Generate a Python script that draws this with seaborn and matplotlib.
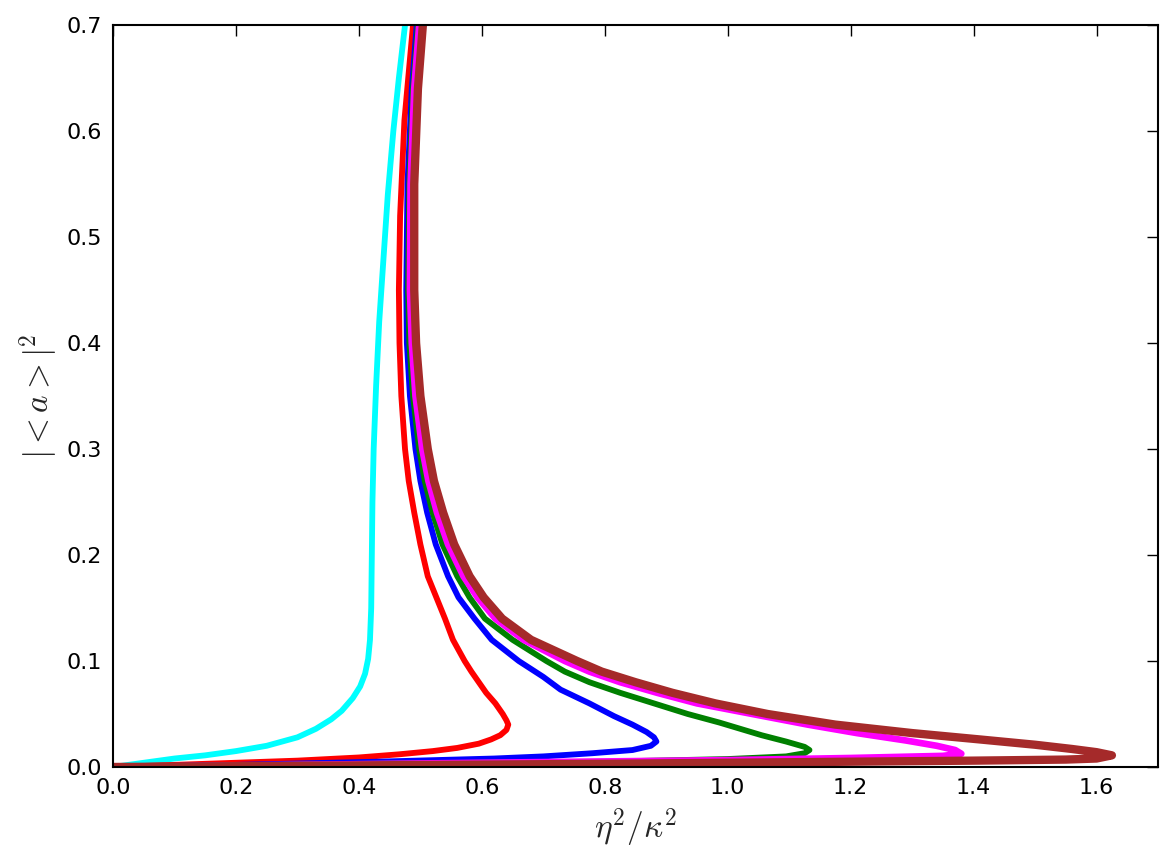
import numpy as np
import pandas as pd
import matplotlib
matplotlib.use("Agg")
import matplotlib.pyplot as plt
import seaborn as sns

# curves, (eta^2/kappa^2, |<a>|^2), in path order
cyan_x = [0.0, 0.05, 0.10, 0.15, 0.20, 0.25, 0.30, 0.33, 0.355, 0.372, 0.39, 0.402, 0.410, 0.415, 0.418, 0.420,
          0.421, 0.422, 0.424, 0.428, 0.433, 0.440, 0.447, 0.456, 0.465, 0.475]
cyan_y = [0.0, 0.004, 0.008, 0.011, 0.015, 0.020, 0.028, 0.036, 0.045, 0.053, 0.065, 0.076, 0.088, 0.102, 0.120, 0.150,
          0.200, 0.250, 0.300, 0.360, 0.420, 0.480, 0.540, 0.600, 0.650, 0.700]

red_x = [0.0, 0.2, 0.3, 0.4, 0.466, 0.52, 0.56, 0.595, 0.615, 0.630, 0.640, 0.643, 0.640, 0.634, 0.622, 0.607,
         0.595, 0.583, 0.572, 0.553, 0.540, 0.526, 0.512, 0.500, 0.490, 0.481, 0.475, 0.469, 0.466, 0.465,
         0.467, 0.474, 0.488]
red_y = [0.0, 0.004, 0.006, 0.009, 0.012, 0.015, 0.018, 0.022, 0.026, 0.030, 0.035, 0.040, 0.044, 0.050, 0.060, 0.070,
         0.080, 0.090, 0.100, 0.120, 0.140, 0.160, 0.180, 0.210, 0.240, 0.270, 0.300, 0.350, 0.400, 0.450,
         0.520, 0.610, 0.700]

blue_x = [0.0, 0.2, 0.43, 0.62, 0.70, 0.78, 0.845, 0.875, 0.884, 0.880, 0.868, 0.845, 0.815, 0.775, 0.728, 0.700,
          0.660, 0.616, 0.588, 0.562, 0.545, 0.525, 0.511, 0.500, 0.492, 0.483, 0.478, 0.477, 0.479, 0.486, 0.494]
blue_y = [0.0, 0.002, 0.005, 0.008, 0.010, 0.013, 0.016, 0.020, 0.024, 0.028, 0.033, 0.040, 0.048, 0.060, 0.073, 0.085,
          0.100, 0.120, 0.140, 0.160, 0.180, 0.210, 0.240, 0.270, 0.300, 0.350, 0.400, 0.450, 0.550, 0.640, 0.700]

green_x = [0.0, 0.4, 0.8, 1.0, 1.095, 1.125, 1.133, 1.125, 1.095, 1.055, 0.986, 0.935, 0.880, 0.825, 0.775, 0.735,
           0.705, 0.650, 0.605, 0.580, 0.560, 0.536, 0.520, 0.507, 0.498, 0.488, 0.482, 0.480, 0.482, 0.488, 0.496]
green_y = [0.0, 0.003, 0.005, 0.0075, 0.010, 0.013, 0.016, 0.019, 0.024, 0.030, 0.042, 0.050, 0.060, 0.070, 0.080, 0.090,
           0.100, 0.120, 0.140, 0.160, 0.180, 0.210, 0.240, 0.270, 0.300, 0.350, 0.400, 0.450, 0.550, 0.640, 0.700]

magenta_x = [0.0, 0.6, 1.0, 1.2, 1.35, 1.38, 1.37, 1.34, 1.29, 1.21, 1.13, 1.04, 0.95, 0.885, 0.825, 0.775,
             0.735, 0.668, 0.622, 0.593, 0.570, 0.545, 0.527, 0.513, 0.503, 0.492, 0.486, 0.483, 0.484, 0.490, 0.498]
magenta_y = [0.0, 0.004, 0.0065, 0.0085, 0.0105, 0.0125, 0.016, 0.020, 0.025, 0.032, 0.040, 0.050, 0.060, 0.070, 0.080, 0.090,
             0.100, 0.120, 0.140, 0.160, 0.180, 0.210, 0.240, 0.270, 0.300, 0.350, 0.400, 0.450, 0.550, 0.640, 0.700]

brown_x = [0.0, 0.8, 1.2, 1.40, 1.55, 1.60, 1.625, 1.60, 1.56, 1.50, 1.41, 1.30, 1.175, 1.065, 0.980, 0.910, 0.850,
           0.795, 0.755, 0.680, 0.633, 0.603, 0.580, 0.555, 0.537, 0.522, 0.512, 0.500, 0.493, 0.490, 0.490, 0.496, 0.504]
brown_y = [0.0, 0.003, 0.005, 0.006, 0.007, 0.008, 0.011, 0.014, 0.017, 0.021, 0.026, 0.032, 0.040, 0.050, 0.060, 0.070, 0.080,
           0.090, 0.100, 0.120, 0.140, 0.160, 0.180, 0.210, 0.240, 0.270, 0.300, 0.350, 0.400, 0.450, 0.550, 0.640, 0.700]

curves = [
    ("cyan", cyan_x, cyan_y, "cyan", 4.2),
    ("red", red_x, red_y, "red", 4.2),
    ("blue", blue_x, blue_y, "blue", 4.2),
    ("green", green_x, green_y, "green", 4.2),
    ("magenta", magenta_x, magenta_y, "magenta", 4.8),
    ("brown", brown_x, brown_y, "brown", 6.0),
]

sns.set_style("white")
plt.rcParams["mathtext.fontset"] = "cm"
plt.rcParams["xtick.direction"] = "in"
plt.rcParams["ytick.direction"] = "in"

fig = plt.figure(figsize=(11.69, 8.65), dpi=100)
ax = fig.add_axes([0.0967, 0.1133, 0.8939, 0.8577])

for name, xs, ys, col, lw in curves:
    df = pd.DataFrame({"x": xs, "y": ys})
    sns.lineplot(data=df, x="x", y="y", sort=False, estimator=None,
                 color=col, linewidth=lw, ax=ax)

ax.set_xlim(0, 1.7)
ax.set_ylim(0, 0.7)
ax.set_xticks(np.arange(0, 1.61, 0.2))
ax.set_yticks(np.arange(0, 0.71, 0.1))
ax.tick_params(which="both", top=True, right=True, length=8, width=1,
               labelsize=16, pad=8, colors="black")
for s in ax.spines.values():
    s.set_color("black")
    s.set_linewidth(1.5)

ax.set_xlabel(r"$\eta^2/\kappa^2$", fontsize=24, labelpad=6)
ax.set_ylabel(r"$|<a>|^2$", fontsize=24, labelpad=4)

fig.savefig("out.png", dpi=100)
